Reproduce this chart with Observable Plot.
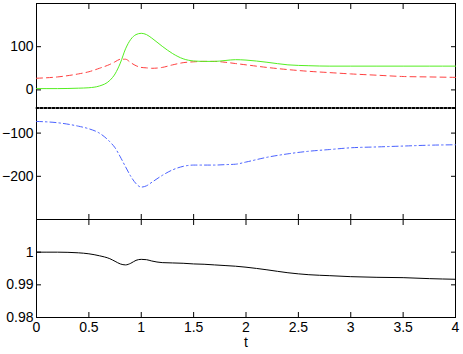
<!DOCTYPE html>
<html><head><meta charset="utf-8">
<script src="https://cdn.jsdelivr.net/npm/d3@7"></script>
<script src="https://cdn.jsdelivr.net/npm/@observablehq/plot@0.6"></script>
<style>body{margin:0;background:#fff} #chart svg{display:block}</style>
</head><body><div id="chart"></div>
<script>
const t      = [0, 0.2, 0.4, 0.5, 0.6, 0.7, 0.75, 0.8, 0.85, 0.9, 0.95, 1.0, 1.05, 1.1, 1.2, 1.3, 1.4, 1.5, 1.6, 1.7, 1.8, 1.9, 2.0, 2.2, 2.4, 2.6, 2.8, 3.0, 3.25, 3.5, 3.75, 4.0];
const green  = [3, 3, 4, 5, 9, 22, 37, 62, 95, 117, 128, 131, 128, 120, 101, 84, 72, 67, 66, 66, 68, 70, 69, 64, 58, 56, 55, 55, 55, 55, 55, 55];
const red    = [27, 30, 37, 42, 50, 59, 65, 71, 71, 63, 56, 52, 51, 50, 52, 58, 63, 65, 66, 66, 64, 61, 58, 52, 47, 43, 40, 37, 34, 31, 30, 29];
const blue   = [-73, -76, -84, -90, -100, -120, -134, -155, -178, -200, -217, -225, -222, -214, -198, -185, -177, -174, -174, -174, -173, -172, -167, -156, -148, -142, -138, -134, -132, -130, -128, -127];
const dotted = [-42, -42, -42, -42, -42, -42, -42, -42, -42, -42, -42, -42, -42, -42, -42, -42, -42, -42, -42, -42, -42, -42, -42, -42, -42, -42, -42, -42, -42, -42, -42, -42];
const ratio  = [1.0, 1.0, 0.9998, 0.9995, 0.9989, 0.9980, 0.9972, 0.9964, 0.9961, 0.9966, 0.9975, 0.9978, 0.9977, 0.9973, 0.9968, 0.9967, 0.9966, 0.9964, 0.9963, 0.9961, 0.9959, 0.9957, 0.9954, 0.9946, 0.9937, 0.9931, 0.9928, 0.9925, 0.9923, 0.9922, 0.9919, 0.9917];
const xTicks = [0, 0.5, 1, 1.5, 2, 2.5, 3, 3.5, 4];
const yTicksTop = [-200, -100, 0, 100];
const yTicksBottom = [0.98, 0.99, 1];
const xLabel = "t";

const rows = (ys) => t.map((tt, i) => ({t: tt, v: ys[i]}));
const font = {fontFamily: "'Liberation Sans', Arial, sans-serif", fontSize: "14px", color: "black", background: "white", overflow: "visible"};
const blank = () => "";
const fmt = (d) => (d < 0 ? "\u2212" + String(-d) : String(d));

const topPlot = Plot.plot({
  width: 463, height: 219,
  marginTop: 3, marginBottom: 0, marginLeft: 36, marginRight: 8,
  style: font,
  x: {domain: [0, 4]},
  y: {domain: [-300, 200]},
  marks: [
    Plot.frame({stroke: "black"}),
    Plot.axisX({anchor: "bottom", ticks: xTicks, tickSize: -5, tickFormat: blank, label: null}),
    Plot.axisX({anchor: "top", ticks: xTicks, tickSize: -5, tickFormat: blank, label: null}),
    Plot.axisY({anchor: "left", ticks: yTicksTop, tickSize: -5, tickPadding: 8, tickFormat: fmt, label: null}),
    Plot.axisY({anchor: "right", ticks: yTicksTop, tickSize: -5, tickFormat: blank, label: null}),
    Plot.line(rows(dotted), {x: "t", y: "v", stroke: "black", strokeWidth: 2, strokeDasharray: "2,2"}),
    Plot.line(rows(red), {x: "t", y: "v", stroke: "#ff4040", strokeWidth: 1, strokeDasharray: "6,4", curve: "monotone-x"}),
    Plot.line(rows(blue), {x: "t", y: "v", stroke: "#4a62ff", strokeWidth: 1, strokeDasharray: "6,3,1.5,3", curve: "monotone-x"}),
    Plot.line(rows(green), {x: "t", y: "v", stroke: "#55ee22", strokeWidth: 1, curve: "monotone-x"})
  ]
});

const bottomPlot = Plot.plot({
  width: 463, height: 135,
  marginTop: 0, marginBottom: 37, marginLeft: 36, marginRight: 8,
  style: font,
  x: {domain: [0, 4]},
  y: {domain: [0.98, 1.01]},
  marks: [
    Plot.frame({stroke: "black"}),
    Plot.axisX({anchor: "bottom", ticks: xTicks, tickSize: -5, tickPadding: 10, tickFormat: fmt, label: xLabel, labelAnchor: "center", labelArrow: "none", labelOffset: 29}),
    Plot.axisX({anchor: "top", ticks: xTicks, tickSize: -5, tickFormat: blank, label: null}),
    Plot.axisY({anchor: "left", ticks: yTicksBottom, tickSize: -5, tickPadding: 8, tickFormat: fmt, label: null}),
    Plot.axisY({anchor: "right", ticks: yTicksBottom, tickSize: -5, tickFormat: blank, label: null}),
    Plot.line(rows(ratio), {x: "t", y: "v", stroke: "black", strokeWidth: 1, curve: "monotone-x"})
  ]
});

document.getElementById("chart").append(topPlot, bottomPlot);
</script>
</body></html>
